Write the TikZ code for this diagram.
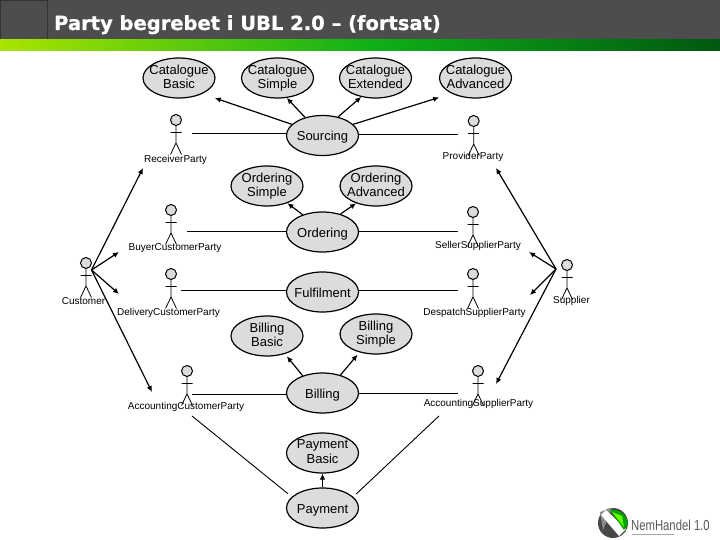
\documentclass[tikz,border=0pt]{standalone}
\usepackage{fontspec}
\setmainfont{Liberation Sans}
\newfontfamily\titlefont[BoldFeatures={FakeBold=0.8}]{DejaVu Sans}
\usetikzlibrary{arrows.meta,shapes.geometric}
\definecolor{hdr}{HTML}{4D4D4D}
\definecolor{uc}{HTML}{DCDCDC}
\newcommand{\ucstrutA}{\rule{0pt}{13pt}}
\newcommand{\ucstrutB}{\rule[-3pt]{0pt}{3pt}}
\tikzset{
  usecase/.style={ellipse,draw=black,line width=1.2pt,fill=uc,minimum width=72pt,minimum height=40pt,inner sep=-14pt,align=center,font=\fontsize{13}{14.2}\selectfont,execute at begin node=\ucstrutA,execute at end node=\ucstrutB},
  actorbox/.style={inner sep=0pt,minimum height=20pt},
  actorline/.style={line width=0.8pt},
  actorhead/.style={draw=black,line width=1pt,fill=uc},
  lab/.style={inner sep=0pt,font=\fontsize{10}{12}\selectfont},
  assoc/.style={line width=0.9pt},
  arrow/.style={line width=1.2pt,-{Latex[length=6pt,width=5.5pt]}},
}
% name, x, head y, connector y, half width of the actor's box
\newcommand{\actorfig}[5]{%
  \node[actorbox,minimum width=#5*2pt] (#1) at (#2,-#4) {};
  \draw[actorhead] (#2,-#3) circle (5.5pt);
  \draw[actorline] (#2,-#3-5.5) -- (#2,-#3-23)
     (#2-5.5,-#3-12.5) -- (#2+5.5,-#3-12.5)
     (#2-5.5,-#3-34.5) -- (#2,-#3-23) -- (#2+5.5,-#3-34.5);
}
\begin{document}
\begin{tikzpicture}[x=1pt,y=1pt]
\useasboundingbox (0,0) rectangle (720,-540);
\fill[white] (0,0) rectangle (720,-540);
% header
\fill[hdr] (0,0) rectangle (720,-40);
\draw[black!80,line width=0.7pt] (0.5,-0.5) rectangle (47.5,-39.5);
\shade[shading=axis,shading angle=90,left color={rgb,255:red,170;green,228;blue,0},right color={rgb,255:red,16;green,176;blue,24}] (0,-40) rectangle (370,-51);
\shade[shading=axis,shading angle=90,left color={rgb,255:red,16;green,176;blue,24},right color={rgb,255:red,0;green,88;blue,16}] (370,-40) rectangle (720,-51);
\node[anchor=base west,inner sep=0pt,text=white,font=\titlefont\bfseries\fontsize{19.5}{22}\selectfont] (title) at (54,-30) {Party begrebet i UBL 2.0 – (fortsat)};
% logo
\fill[black!72] (613,-523) circle (15pt);
\fill[black!45] (600,-512) -- (612,-508) -- (603,-530) -- cycle;
\fill[white] (601,-515) -- (606,-510) -- (626,-529) -- (619,-536) -- cycle;
\fill[green!65!black] (610,-510) .. controls (620,-509) and (627,-515) .. (628,-524) -- (624,-530) -- cycle;
\fill[green!60!yellow] (612,-512) -- (622,-516) -- (624,-527) -- cycle;
\node[anchor=base west,inner sep=0pt,text=black!65,xscale=0.78,transform shape,font=\fontsize{14.5}{16}\selectfont] (logotext) at (631,-530) {NemHandel 1.0};
\draw[black!35,line width=1pt] (632,-534) -- (674,-534);
% use cases
\node[usecase] (cb) at (179,-78) {Catalogue\\Basic};
\node[usecase] (cs) at (277.5,-78) {Catalogue\\Simple};
\node[usecase] (ce) at (375.5,-78) {Catalogue\\Extended};
\node[usecase] (ca) at (475.5,-78) {Catalogue\\Advanced};
\node[usecase] (src) at (322.5,-135.5) {Sourcing};
\node[usecase] (os) at (267,-186) {Ordering\\Simple};
\node[usecase] (oa) at (376,-186) {Ordering\\Advanced};
\node[usecase] (ord) at (322.5,-232) {Ordering};
\node[usecase] (ful) at (322.5,-292) {Fulfilment};
\node[usecase] (bb) at (267,-336) {Billing\\Basic};
\node[usecase] (bs) at (376,-334) {Billing\\Simple};
\node[usecase] (bil) at (322.5,-393) {Billing};
\node[usecase] (pb) at (322.5,-453) {Payment\\Basic};
\node[usecase] (pay) at (322.5,-508) {Payment};
% actors
\actorfig{rcv}{176}{120}{133.5}{16}
\actorfig{prv}{473.7}{121}{134}{16}
\actorfig{buy}{171}{210}{231.7}{16}
\actorfig{sel}{473}{212}{231.7}{15}
\actorfig{cus}{86}{263}{270}{6}
\actorfig{del}{171}{274}{290}{10}
\actorfig{dsp}{473}{274}{290}{15}
\actorfig{sup}{567}{265}{269}{11}
\actorfig{acc}{187}{371}{394}{5}
\actorfig{acs}{478}{371}{393}{20}
% actor labels
\node[lab] (lrcv) at (175.5,-160) {ReceiverParty};
\node[lab] (lprv) at (473,-157) {ProviderParty};
\node[lab] (lbuy) at (175,-248) {BuyerCustomerParty};
\node[lab] (lsel) at (478,-246) {SellerSupplierParty};
\node[lab] (lcus) at (83.5,-301) {Customer};
\node[lab] (ldel) at (168.5,-313) {DeliveryCustomerParty};
\node[lab] (ldsp) at (474.5,-313) {DespatchSupplierParty};
\node[lab] (lsup) at (571.5,-301) {Supplier};
\node[lab] (lacc) at (186,-407) {AccountingCustomerParty};
\node[lab] (lacs) at (478.5,-404) {AccountingSupplierParty};
% free ends
\coordinate (cusO) at (91.5,-270);
\coordinate (supO) at (556,-269);
\coordinate (tR) at (143,-168);
\coordinate (tB) at (119,-252);
\coordinate (tD) at (119,-294);
\coordinate (tA) at (152,-392);
\coordinate (tP) at (496,-168);
\coordinate (tS) at (529,-252);
\coordinate (tE) at (530,-295);
\coordinate (tU) at (496,-384);
\coordinate (pL) at (192,-416);
\coordinate (pR) at (439,-416);
% associations
\draw[assoc] (rcv.east) -- (rcv.east -| src.west);
\draw[assoc] (prv.west) -- (prv.west -| src.east);
\draw[assoc] (buy.east) -- (buy.east -| ord.west);
\draw[assoc] (sel.west) -- (sel.west -| ord.east);
\draw[assoc] (del.east) -- (del.east -| ful.west);
\draw[assoc] (dsp.west) -- (dsp.west -| ful.east);
\draw[assoc] (acc.east) -- (acc.east -| bil.west);
\draw[assoc] (acs.west) -- (acs.west -| bil.east);
\draw[assoc,shorten >=5pt] (pL) -- (pay.160);
\draw[assoc,shorten >=4pt] (pR) -- (pay.20);
% includes
\draw[arrow,shorten >=13pt] (src.160) -- (cb.-34);
\draw[arrow] (src.134) -- (cs.-65);
\draw[arrow] (src.50) -- (ce.-127);
\draw[arrow,shorten >=13pt] (src.20) -- (ca.-147);
\draw[arrow] (ord.139) -- (os.-40);
\draw[arrow] (ord.45) -- (oa.-139);
\draw[arrow,shorten >=3pt] (bil.139) -- (bb.-45);
\draw[arrow,shorten >=3pt] (bil.45) -- (bs.-132);
\draw[line width=0.9pt,-{Latex[length=6pt,width=5.5pt]}] (pay.north) -- (pb.south);
% generalisations of the two parties
\draw[arrow] (cusO) -- (tR);
\draw[arrow] (cusO) -- (tB);
\draw[arrow] (cusO) -- (tD);
\draw[arrow] (cusO) -- (tA);
\draw[arrow] (supO) -- (tP);
\draw[arrow] (supO) -- (tS);
\draw[arrow] (supO) -- (tE);
\draw[arrow] (supO) -- (tU);
\end{tikzpicture}
\end{document}
